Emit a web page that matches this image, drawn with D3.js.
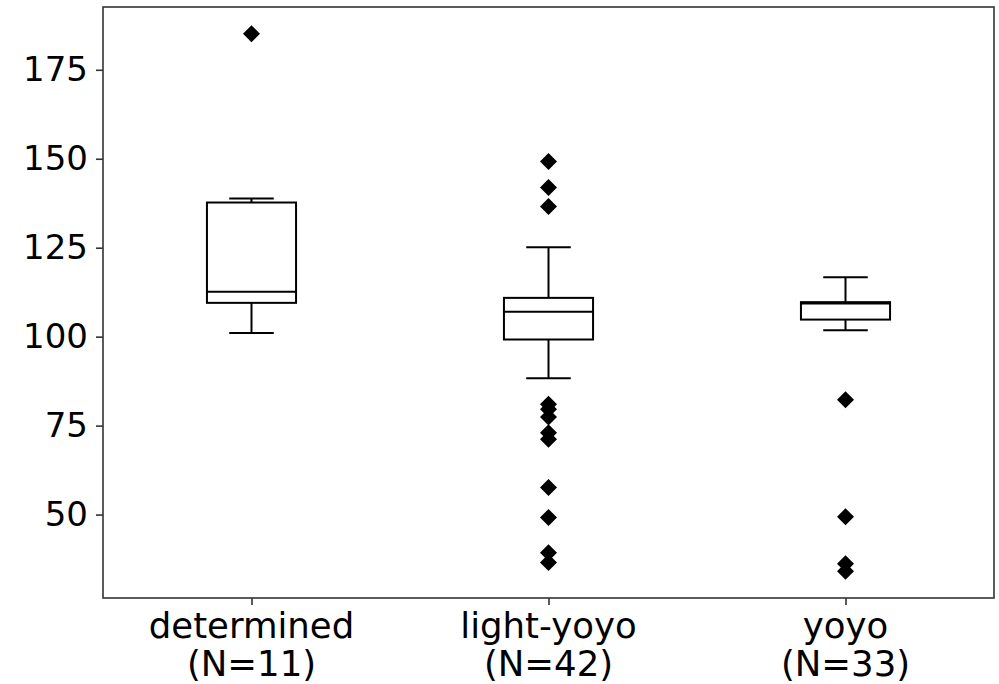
<!DOCTYPE html>
<html>
<head>
<meta charset="utf-8">
<script src="https://cdn.jsdelivr.net/npm/d3@7"></script>
<style>
  html, body { margin: 0; padding: 0; background: #fff; }
  svg { display: block; }
  text { font-family: "DejaVu Sans", sans-serif; }
</style>
</head>
<body>
<svg id="chart" width="999" height="684"></svg>
<script>
// Groups and their sizes
const categories = ["determined", "light-yoyo", "yoyo"];
const counts = [11, 42, 33];

// Box statistics per group: lower whisker, Q1, median, Q3, upper whisker
const whiskerLow = [101.0, 88.3, 101.8];
const q1 = [109.5, 99.2, 104.8];
const median = [112.6, 107.0, 109.3];
const q3 = [137.7, 110.9, 109.7];
const whiskerHigh = [138.8, 125.1, 116.7];

// Outliers per group
const outliers = [
  [185.1],
  [149.2, 141.9, 136.6, 81.0, 79.6, 77.4, 73.0, 71.2, 57.6, 49.2, 39.3, 36.5],
  [82.3, 49.4, 36.2, 34.1]
];

const yTicks = [50, 75, 100, 125, 150, 175];

const svg = d3.select("#chart");
const margin = { left: 103, right: 5, top: 7, bottom: 86 };
const W = 999, H = 684;
const plotW = W - margin.left - margin.right;
const plotH = H - margin.top - margin.bottom;

// y domain padded by 5% of the data range
const allVals = [].concat(whiskerLow, whiskerHigh, ...outliers);
const lo = d3.min(allVals), hi = d3.max(allVals);
const pad = (hi - lo) * 0.05;

const x = d3.scaleLinear().domain([0.5, categories.length + 0.5]).range([0, plotW]);
const y = d3.scaleLinear().domain([lo - pad, hi + pad]).range([plotH, 0]);

const g = svg.append("g").attr("transform", `translate(${margin.left},${margin.top})`);

const boxW = x(1.3) - x(1);
const capW = boxW / 2;

categories.forEach((c, i) => {
  const cx = x(i + 1);
  const bg = g.append("g").attr("stroke", "#000").attr("stroke-width", 2).attr("fill", "none");
  // whiskers
  bg.append("line").attr("x1", cx).attr("x2", cx).attr("y1", y(q1[i])).attr("y2", y(whiskerLow[i]));
  bg.append("line").attr("x1", cx).attr("x2", cx).attr("y1", y(q3[i])).attr("y2", y(whiskerHigh[i]));
  // caps
  bg.append("line").attr("x1", cx - capW / 2).attr("x2", cx + capW / 2).attr("y1", y(whiskerLow[i])).attr("y2", y(whiskerLow[i]));
  bg.append("line").attr("x1", cx - capW / 2).attr("x2", cx + capW / 2).attr("y1", y(whiskerHigh[i])).attr("y2", y(whiskerHigh[i]));
  // box
  bg.append("rect").attr("x", cx - boxW / 2).attr("width", boxW)
    .attr("y", y(q3[i])).attr("height", y(q1[i]) - y(q3[i]));
  // median
  bg.append("line").attr("x1", cx - boxW / 2).attr("x2", cx + boxW / 2).attr("y1", y(median[i])).attr("y2", y(median[i]));
  // outliers as diamonds
  const d = 8.5;
  g.selectAll(null).data(outliers[i]).enter().append("path")
    .attr("d", v => `M${cx},${y(v) - d}L${cx + d},${y(v)}L${cx},${y(v) + d}L${cx - d},${y(v)}Z`)
    .attr("fill", "#000");
});

// frame
g.append("rect").attr("x", 0).attr("y", 0).attr("width", plotW).attr("height", plotH)
  .attr("fill", "none").attr("stroke", "#333").attr("stroke-width", 1.6);

// y axis
const yAxis = g.append("g").call(d3.axisLeft(y).tickValues(yTicks).tickSize(7).tickPadding(8));
yAxis.select(".domain").remove();
yAxis.selectAll(".tick line").attr("stroke", "#333").attr("stroke-width", 1.6);
yAxis.selectAll(".tick text").attr("font-size", 34).attr("fill", "#000")
  .attr("font-family", "DejaVu Sans");

// x axis ticks and two-line labels
const xAxis = g.append("g").attr("transform", `translate(0,${plotH})`)
  .call(d3.axisBottom(x).tickValues(categories.map((c, i) => i + 1)).tickSize(7).tickFormat(""));
xAxis.select(".domain").remove();
xAxis.selectAll(".tick line").attr("stroke", "#333").attr("stroke-width", 1.6);
categories.forEach((c, i) => {
  const t = g.append("text").attr("text-anchor", "middle").attr("font-size", 35.5).attr("fill", "#000")
    .attr("x", x(i + 1)).attr("y", plotH + 40);
  t.append("tspan").attr("x", x(i + 1)).text(c);
  t.append("tspan").attr("x", x(i + 1)).attr("dy", 38).text(`(N=${counts[i]})`);
});
</script>
</body>
</html>
